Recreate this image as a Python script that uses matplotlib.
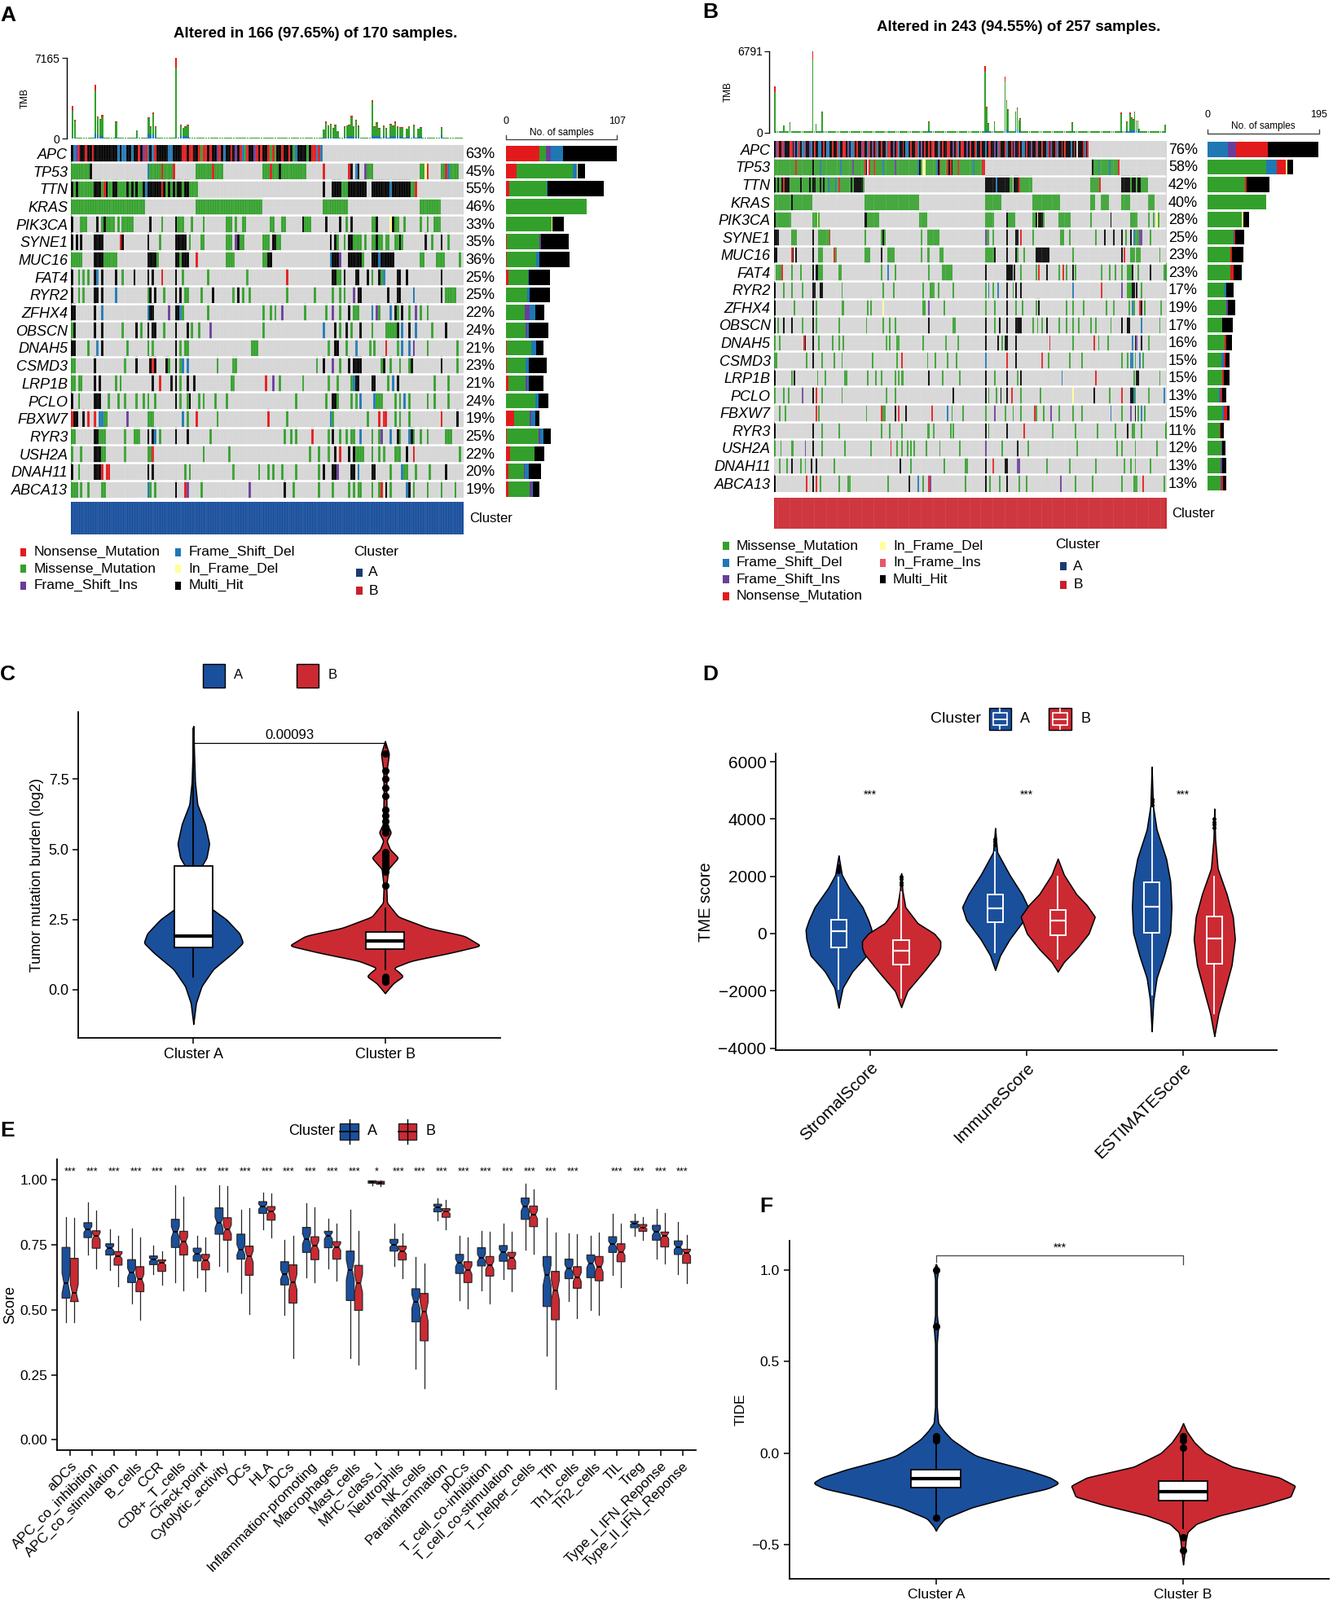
import numpy as np
import matplotlib.pyplot as plt
from matplotlib.colors import ListedColormap
from matplotlib.patches import Rectangle
from matplotlib.lines import Line2D

plt.rcParams['font.family'] = ['Liberation Sans', 'DejaVu Sans']

# layout grid: reference scaled to 1309 x 1571 units, top-left origin
W, H = 1309.0, 1571.0

BLUE = '#1A4F9C'
RED = '#CB2A33'

# ---------------- oncoplot data ----------------
MUT_CODES = '.MNDIYJX'
MUT_COLORS = ['#D5D5D5', '#33A02C', '#E31A1C', '#1F78B4', '#6A3D9A', '#FFFF99', '#E8566A', '#000000']
MUT_NAMES = {'M': 'Missense_Mutation', 'N': 'Nonsense_Mutation', 'D': 'Frame_Shift_Del',
             'I': 'Frame_Shift_Ins', 'Y': 'In_Frame_Del', 'J': 'In_Frame_Ins', 'X': 'Multi_Hit'}

genes_a = ['APC', 'TP53', 'TTN', 'KRAS', 'PIK3CA', 'SYNE1', 'MUC16', 'FAT4', 'RYR2', 'ZFHX4',
           'OBSCN', 'DNAH5', 'CSMD3', 'LRP1B', 'PCLO', 'FBXW7', 'RYR3', 'USH2A', 'DNAH11', 'ABCA13']
genes_b = ['APC', 'TP53', 'TTN', 'KRAS', 'PIK3CA', 'SYNE1', 'MUC16', 'FAT4', 'RYR2', 'ZFHX4',
           'OBSCN', 'DNAH5', 'CSMD3', 'LRP1B', 'PCLO', 'FBXW7', 'RYR3', 'USH2A', 'DNAH11', 'ABCA13']
pct_a = [63, 45, 55, 46, 33, 35, 36, 25, 25, 22, 24, 21, 23, 21, 24, 19, 25, 22, 20, 19]
pct_b = [76, 58, 42, 40, 28, 25, 23, 23, 17, 19, 17, 16, 15, 15, 13, 15, 11, 12, 13, 13]

apc_a = ("XDINXXNXXN" "XXXXXXXXXX" "DXDDXXDXXN" "XINDXDNXXX" "XXDDXXXXNN"
         "XNNXXNMNNX" "NXXINXDXXN" "XIXNDMNXXI" "NXNXXNMNMX" "XNXXNXMDXX" "XXMXNNDND")
rows_a = [
    "M0-7 X8 D33 M34-38 N39 M40-43 N44 M54-60 N61 M62-65 M83-85 N86 M87-89 X90 M91-101 N109 N120 X121 D123 X124 I127 M128-130 M151-152 Y153 N154 M160-161 N162 D163 M164-167",
    "X0 M1 X2 M3-9 X10-12 M13 N14 X15 M16-17 X18-19 M20-23 X24 M25 X26 M27 X28 M29-30 X31 D32 X33-38 N39 X40 M41 X42 M43 X44 M45 X46-47 M48 X49-50 M51-54 X109 X113-116 M117-119 X120-127 X130-137 D138 X139-146 M147-148 N149",
    "M0-31 M54-82 M109-119 M151-159",
    "X0 M4-6 X11 M13 X14 M15-18 M20 M22-26 X34 M39 X45 M46-48 M52 M57 M67-69 M71 M74-75 M86-87 M91-92 X100 M101-103 X110 X116 M119 X121 M130-131 X132 Y138 X139 M140-141 M144 M151 M154 M157-159",
    "X0 X2 X4 X10-13 N21 X22 X33 M38 X45 X46-48 X49 M51 M56-57 M67-69 I71 X72 M73-74 M83-85 X87-88 M89-90 X112 X114 M115 M118 X120-121 M122-125 M127 M130-131 X132 M133-134 M136-137 M140-141 X142 M143 X153 M156 X160 M163",
    "M0-4 X10-13 M14-19 X33-36 M37 X45-46 M47 X48-50 N54 M67-70 M83-84 X85-86 D112 X113-115 I116 X120-125 M126 X130-132 D133 X134-139 M151-152 M158-161 M168",
    "X0 M3 M5 M7 X10 D11 X13 X19 M22 X27 X33 X35 N39 X45 M48 M59 M76 N93 X113-114 M115-116 X118 X123-124 X128 M130 X133 M134 D135 X141-142 X145 X160",
    "X0 M3 M5 X10-11 X13 D19 M33 X34 X36 M40 X45 X47 M49-50 M56 X61 M70 X72 M74 M77 M93 M105 M113 M116 M118 I122 X124-125 X137 X141-142 D148 X160 M162-166",
    "X0-1 X10 D13 D33 X34-35 I42 X45-46 D47 M48 M59 M83 M86 M88 I91 M101 M110 I113 M116 X120 M122-124 D130 I132 M133 D138 X140 M141 X143 M146 I149 M151 M154",
    "M0 X1 X10 X13 M22 X28 M30 X33 X35-36 M40 X45 X50 M52 M55 I60 M83 D109 X114 M116 X119 M121 X125 M130 M136-140 X141 D143 X146 D149 M156 X162",
    "X0-1 M7 D11 X13 M24 M33 M35 X45 M47 M49-50 M78-80 M111 X114-115 M119 D123 M129 M131 N136 M141 D143 D146 I148 M154 M167",
    "M0-1 X10 M23 X28 X34 N35 X36 X41 M42 X45 M47 D48 D50 M63 M70-71 M106 X109 I113 M116 X120 X122-125 M134 X135 M138 M142 M146 X147 X160 M167",
    "M0-1 M3-4 X10 X12 M19 M21 X35 N38 X43 X45 M47 X50 X53 M69-70 N84 I87 M90 M100 M111 M115 M121 D122 X123-124 X130-131 M137 D139 X141 M157 M163",
    "X0 M3 X10-12 M16 M20 M23 M28 M31 M33 M36 X45 M47 M50 X51 M55 M57 M62 M67 M97 M110 X113-114 M115 M121 M123 D125 D131 M132-134 M140 M142 D144 M146 M154 M157 M163",
    "N0 X1-2 X5 N7 N10 D12-13 M14-15 I24 M33-35 D48 M50 N54 M63 N85 M93 D112 M113 M128 N133 N135-136 M140 M142 M146 N160 X167",
    "M0-1 X10-11 M12-14 M23 M27-29 X33 X35 D36 M38 X45 X50 M60 M92 M95 M97 N104 M111 X113 M116 M119 M121-122 D125 M130 M133 I134 D138 X141 M142 D146 X147 M148 M151 M154 M162-164",
    "M0 M4 X10-12 M13-14 M23 M33-34 N35 M57 M68 M103 M107 M111 X114 N116 X120 X122 M123-126 M130 M133 M135 M140-142 X145 N148 M168",
    "X0 M3 X10-12 N13 N15-16 X33 X35 M49 M51 M70 M81 M85 M87 M91 M97 M107 X109 X113-114 I115 X121-122 D124 X130-131 M138 D143 M144-145 M149 M155 X162",
    "M0 M1-2 M4 M7 M13-14 D33 M34 M36 X45 N49 I50 M56 I77 X92 M96 M107 M113 M120 M122 M124-125 M130 M133 N134 X136 M138 D145 X146 M148 M154 M160 M166",
]

apc_b = ("XINXXNIXXX" "NNXIXDNXDD" "NXXIDXNXXD" "DXNXDDXXNX" "XNDXXNNXIX"
         "DDNXNXXINX" "XDNXIXNDXX" "NXXDNNXXIX" "NDXXNXDDXN" "XXNNDXIXNX"
         "XNXNNXXDNX" "NXXNNXXIXN" "DXNNXXIXNX" "XNDXXNXXDX" "NNXXIXDNXX"
         "XNDXXNXIXX" "NXDDXNXXIX" "XNDXXNXXDN" "XIXXNDXXNX" "NXXXDXNX.X" "XXNDXN")
rows_b = [
    "M0-13 N14 M15-24 X25 M26-29 D30 M31-42 D43 M44-50 I51 M52-58 N59 X60 N62 M63-64 N65 M66-70 D71 M72-78 I79 M80-93 D94 X95 M96 Y97-98 M99-105 D106 X107 N108 M109-112 N113 X114 N115 X116 M117-119 N120 M121-129 D130 M131-135 N136-137 X208 M209-211 D212 M213-218 D219 M220-224 N225",
    "X0 M1 X2 M3-4 X5-9 N6 M10-16 X17 M18-22 X23 M24 X25-26 M27-29 X30 M31 X32 M33-34 D35 M36-39 D40 M41 N42 M43-49 X50 M51 X52-57 M58 X138-144 D145 X146-153 M154-155 X157-159 N160 M161-168 M207-212 N213 X227-229 X230-232 M233 X234-236 M237 X238-239 M240-244",
    "M0-10 X11 M12-24 M59-94 M138-148 M169-186 M207-209 M214-218 M227-232 M245-248",
    "X0 M1-10 M25-27 Y28 M29 X59-60 M61-68 M95-99 M138-143 X152 M153-157 M169-170 X171 Y172 X173-175 M176 M186-193 M207 X220 M233-237 M245 M248 Y250 M251",
    "X0-2 M11-14 X25 M29-35 N36 M59 M70 X71 M72 M96 M100-107 I138 M139-140 M143 X152 X158-159 N161 M169 M187-189 M193 M210 X216 X222 X227 M230 X233 D235 M236-238 I239-240 M246",
    "X0-1 N11 X12 X14 X25 M29-31 N39 M40 M59-62 X70 M74-78 M96 M100-101 M108-110 M138-143 X144 X152 X158 M159 M163 X171-179 M195 X227 N229 M233-235 M237-239 M252",
    "M1-4 N5 M11 M17 X25 X27-28 M29-31 M42-43 M70 D74 M79 M101 M110-116 X138 X152-155 X157 M161 M171 N173 X178 M186 N189 M191 X195 M197 M214 M219 M223 M227 M231-233 X234 M238 X246 M255-256",
    "X0 M6 M11 M18 X25-26 X30-31 M44 M71 M78 M97 M102-104 M107 M117 M138 D140 M143 D146 X152 M156 X158 X161 D195 N214 I227 M231-233 X234-235 X237 M240",
    "X0 M13 X25 M27 M44-45 M61 M63 Y71 M97-98 I101 M111 M138 M144 X152 M158 M162 M171 X173 M191 M195 M202 M217 M222 M232 D234 M235 N239 X240 M242 M253",
    "X0 M2 X6 X11 M18 X25 M27 M42 M60 M71 M75 M79 X101 M117-118 X138 M144 X147 X152 X158-161 M169 M172 M175 X178 M186 M191 M195 M199 M207 M210 M220 X227 X231-232 D240 M252",
    "M0 M3 N19 X20 X25 M29 M38 M42 M45 M73 M75 M80-81 M97 M112 M120 X138 X146 M149 X151-152 X158 N180 M195 N209 M212 M218 D234 X236 I237 X240 M245",
    "M0-1 M21 X25 M31 M39 M44 M64 M80 N83 M100 M105 M113 M119 D138 N152 X158 N175 M179 M193 M201 M227 M231 D233-234 M236 D239 M241",
    "X0 M11 X13 M28 M33 M46-47 M61 M66 M70 M79 M81 M83-84 X101 M110 M121 X138 M144 X152 M159 X161 D188 N210 M235 X237-238 M252",
    "M0 M6 M9 I18 X25 N27 M31 M44 M73 M79 X117 X138 M140 M145 X148 X152 N155 M161 M174 Y195 X209 M219 N227 X233-234 D235 M236 M245 D255",
    "M3 M7 N27 M29 M60 N70 M71-72 X79 N81 X86 N103 D113 M116 M123 M138 I144 M151 M156 M161 N170 M171 M176 I181 M186 M195 M201 D220 M227 I233 X236 M238 D240 M242",
    "X0 X25 M31 M42 M70 M75 M83 M100-101 M104 M115 M117 X138 M140 X152 N163 M182 M197 M211 M223 X231 M234-235 M240 M256",
    "M0 M4 M11-12 I20 X25 M31 M46 M63 N76 M80 M83 M87 M89 M91 M99 M108 M121 I138 M149 X159 M166 M198 M224 M227 M236 M250",
    "M3 M8 X11 M17 M20 X24 X27 M39 X82 M89 M111 M125-126 X138 N143 X151-152 I159-160 M178 M193 M210 M229 M233 M236 M246",
    "X0 N21 X25 N27 M30 M42 M48-49 M74 X88 D94 M97 N101 I102 M125 X138 M141 M147 X152 M160 M165 I187 M197 M208 M227 M235-237 N241 M255",
]

# side bar counts per mutation class (stacking order as drawn)
bar_a = {
    'N': [32, 10, 3, 0, 0, 1, 1, 2, 0, 0, 0, 1, 1, 2, 0, 8, 1, 4, 2, 2],
    'M': [6, 54, 36, 78, 44, 31, 28, 19, 20, 18, 19, 23, 18, 17, 28, 15, 30, 23, 15, 21],
    'I': [5, 0, 0, 0, 0, 2, 0, 0, 0, 5, 1, 0, 0, 1, 0, 1, 2, 0, 1, 2],
    'D': [12, 4, 1, 0, 0, 0, 3, 1, 3, 5, 2, 5, 3, 2, 3, 4, 3, 0, 4, 1],
    'Y': [0, 1, 0, 0, 1, 0, 0, 0, 0, 0, 0, 0, 0, 0, 0, 0, 0, 0, 0, 0],
    'X': [52, 7, 54, 0, 11, 26, 29, 20, 19, 9, 19, 7, 17, 14, 10, 4, 7, 10, 12, 6],
}
bar_b = {
    'M': [0, 103, 65, 103, 60, 45, 39, 40, 30, 33, 26, 30, 24, 26, 19, 25, 21, 24, 22, 22],
    'D': [35, 18, 0, 0, 0, 0, 0, 0, 3, 0, 0, 0, 4, 0, 3, 3, 0, 0, 0, 1],
    'I': [14, 0, 0, 0, 0, 2, 0, 0, 0, 3, 0, 0, 0, 0, 0, 0, 0, 2, 3, 1],
    'N': [56, 16, 3, 0, 0, 1, 3, 5, 0, 0, 0, 3, 3, 2, 3, 6, 1, 0, 0, 3],
    'Y': [0, 3, 0, 0, 3, 0, 0, 0, 0, 0, 0, 0, 0, 0, 0, 0, 0, 0, 0, 0],
    'J': [0] * 20,
    'X': [89, 10, 41, 0, 9, 16, 20, 15, 13, 12, 18, 9, 7, 10, 7, 4, 6, 5, 7, 5],
}

# TMB spikes: (sample, total, Frame_Shift_Del part, Nonsense part); other samples sit at baseline
tmb_a = [(0, 2911, 60, 430), (1, 1646, 40, 100), (10, 4760, 450, 500), (11, 1975, 350, 100),
         (12, 1722, 250, 80), (13, 2076, 200, 100), (19, 1519, 50, 80), (28, 760, 100, 40),
         (33, 1899, 450, 100), (34, 1089, 300, 60), (35, 2304, 450, 150), (36, 1089, 200, 60),
         (45, 7165, 50, 835), (47, 1266, 300, 80), (48, 962, 250, 50), (49, 1063, 250, 60),
         (50, 1241, 250, 80), (109, 810, 50, 40), (110, 1519, 100, 150), (111, 1165, 80, 60),
         (112, 1317, 100, 60), (113, 937, 80, 40), (114, 1241, 100, 60), (115, 684, 60, 30),
         (118, 1063, 150, 50), (119, 1190, 150, 60), (120, 1241, 200, 60), (121, 2000, 250, 100),
         (122, 1063, 150, 50), (123, 1696, 200, 80), (124, 1139, 150, 50), (130, 3443, 300, 200),
         (131, 1063, 200, 60), (132, 1443, 200, 80), (133, 937, 200, 40), (135, 1139, 250, 60),
         (136, 937, 200, 40), (138, 1317, 250, 60), (139, 1139, 200, 60), (140, 1494, 250, 80),
         (141, 1063, 200, 50), (142, 987, 200, 50), (143, 987, 150, 40), (145, 886, 150, 40),
         (146, 1063, 200, 60), (148, 1241, 200, 60), (150, 886, 150, 40), (151, 987, 200, 40),
         (160, 987, 300, 60)]
tmb_b = [(0, 3867, 50, 500), (6, 604, 20, 30), (10, 846, 60, 40), (25, 6791, 60, 700),
         (27, 725, 100, 30), (31, 1716, 100, 60), (101, 918, 150, 40), (138, 5510, 100, 450),
         (139, 2127, 200, 100), (140, 749, 100, 30), (144, 918, 150, 50), (151, 4664, 200, 400),
         (152, 2658, 250, 100), (153, 1958, 200, 80), (158, 1764, 250, 80), (159, 2054, 250, 100),
         (160, 991, 200, 50), (161, 1160, 200, 60), (195, 846, 100, 40), (227, 1643, 100, 80),
         (231, 918, 150, 40), (233, 1643, 250, 80), (234, 1281, 200, 60), (235, 1088, 200, 50),
         (236, 1764, 250, 100), (237, 991, 200, 50), (238, 991, 200, 50), (239, 300, 50, 20),
         (256, 677, 50, 40)]

# ---------------- panel C (TMB log2) ----------------
c_a_y = [-1.22, -0.47, 0.13, 0.73, 1.32, 1.67, 2.0, 2.5, 3.1, 3.7, 4.2, 4.7, 5.2, 5.9, 6.6, 7.4, 8.5, 9.39]
c_a_w = [0, 8, 25, 60, 120, 150, 140, 100, 30, 8, 15, 40, 48, 35, 12, 5, 2, 0]
c_b_y = [-0.12, 0.23, 0.48, 0.65, 0.78, 1.03, 1.32, 1.57, 1.92, 2.2, 2.6, 3.1, 3.7, 4.1, 4.3,
         4.7, 5.0, 5.3, 5.6, 5.9, 6.3, 7.0, 7.8, 8.4, 8.85]
c_b_w = [0, 25, 55, 40, 25, 80, 200, 290, 240, 130, 40, 6, 4, 8, 10, 40, 15, 5, 18, 6, 5, 4, 5, 12, 0]
c_box_a = dict(whislo=0.45, q1=1.52, med=1.92, q3=4.41, whishi=9.3, fliers=[])
c_box_b = dict(whislo=0.72, q1=1.44, med=1.74, q3=2.05, whishi=2.9,
               fliers=[0.3, 0.33, 0.38, 0.45, 3.7, 4.2, 4.3, 4.4, 4.5, 4.6, 4.7, 4.8, 4.9, 5.6,
                       5.7, 5.8, 6.0, 6.2, 6.4, 6.9, 7.2, 7.5, 7.8, 8.4])

# ---------------- panel D (TME scores) ----------------
d_cats = ['StromalScore', 'ImmuneScore', 'ESTIMATEScore']
d_profiles = {
    ('StromalScore', 'A'): ([-2592, -1893, -1330, -766, -200, 135, 473, 924, 1600, 2050, 2727],
                            [0, 10, 33, 68, 78, 80, 72, 58, 25, 8, 0]),
    ('StromalScore', 'B'): ([-2570, -2006, -1330, -700, -485, -259, 0, 360, 924, 1500, 2107],
                            [0, 15, 55, 90, 95, 95, 80, 40, 10, 3, 0]),
    ('ImmuneScore', 'A'): ([-1273, -766, -203, 473, 924, 1375, 2051, 2840, 3685],
                           [0, 12, 35, 70, 80, 65, 35, 5, 0]),
    ('ImmuneScore', 'B'): ([-1330, -992, -541, 0, 586, 1000, 1375, 2051, 2615],
                           [0, 15, 45, 75, 90, 70, 45, 15, 0]),
    ('ESTIMATEScore', 'A'): ([-3415, -2344, -1555, -766, 23, 924, 1826, 2615, 3629, 4474, 5827],
                             [0, 4, 12, 30, 45, 48, 45, 35, 12, 3, 0]),
    ('ESTIMATEScore', 'B'): ([-3584, -2795, -2006, -1104, -203, 586, 1375, 2277, 3300, 4361],
                             [0, 10, 25, 42, 50, 45, 30, 8, 2, 0]),
}
d_boxes = {
    ('StromalScore', 'A'): dict(whislo=-1950, q1=-485, med=79, q3=473, whishi=1950, fliers=[2150, 2250, 2350]),
    ('StromalScore', 'B'): dict(whislo=-2250, q1=-1082, med=-597, q3=-237, whishi=1440, fliers=[1700, 1800, 1900, 2000]),
    ('ImmuneScore', 'A'): dict(whislo=-660, q1=383, med=890, q3=1352, whishi=2850, fliers=[3100, 3200, 3300]),
    ('ImmuneScore', 'B'): dict(whislo=-870, q1=-56, med=440, q3=834, whishi=2000, fliers=[]),
    ('ESTIMATEScore', 'A'): dict(whislo=-2150, q1=23, med=947, q3=1792, whishi=4400, fliers=[4500, 4600, 4700]),
    ('ESTIMATEScore', 'B'): dict(whislo=-2800, q1=-1048, med=-180, q3=586, whishi=1980, fliers=[3700, 3800, 3900, 4000]),
}

# ---------------- panel E (immune scores) ----------------
e_cats = ['aDCs', 'APC_co_inhibition', 'APC_co_stimulation', 'B_cells', 'CCR', 'CD8+_T_cells',
          'Check-point', 'Cytolytic_activity', 'DCs', 'HLA', 'iDCs', 'Inflammation-promoting',
          'Macrophages', 'Mast_cells', 'MHC_class_I', 'Neutrophils', 'NK_cells', 'Parainflammation',
          'pDCs', 'T_cell_co-inhibition', 'T_cell_co-stimulation', 'T_helper_cells', 'Tfh',
          'Th1_cells', 'Th2_cells', 'TIL', 'Treg', 'Type_I_IFN_Reponse', 'Type_II_IFN_Reponse']
# whisker low, q1, median, q3, whisker high
e_stats_a = [
    (.451, .545, .602, .740, .856), (.711, .778, .809, .835, .913), (.654, .711, .737, .754, .809),
    (.524, .605, .643, .693, .814), (.638, .674, .693, .707, .747), (.607, .740, .799, .848, .980),
    (.626, .688, .716, .737, .785), (.669, .791, .835, .892, .980), (.565, .695, .731, .791, .885),
    (.809, .871, .897, .916, .951), (.482, .596, .636, .685, .768), (.626, .721, .773, .817, .910),
    (.659, .739, .785, .802, .851), (.316, .536, .654, .726, .885), (.978, .987, .991, .996, .999),
    (.669, .726, .750, .771, .833), (.273, .454, .532, .581, .702), (.845, .877, .894, .906, .928),
    (.536, .640, .681, .713, .783), (.576, .669, .700, .739, .804), (.617, .687, .721, .747, .830),
    (.731, .848, .897, .930, .985), (.325, .513, .633, .705, .853), (.534, .620, .659, .695, .794),
    (.501, .624, .679, .711, .783), (.633, .721, .752, .781, .869), (.785, .816, .833, .840, .868),
    (.698, .768, .799, .825, .889), (.636, .713, .742, .765, .837)]
e_stats_b = [
    (.454, .532, .565, .698, .853), (.659, .737, .783, .804, .882), (.591, .672, .707, .724, .783),
    (.462, .570, .617, .666, .778), (.596, .648, .681, .692, .726), (.576, .711, .762, .802, .934),
    (.571, .654, .692, .713, .778), (.648, .768, .809, .854, .975), (.484, .633, .705, .745, .892),
    (.778, .845, .877, .897, .946), (.316, .526, .607, .673, .783), (.607, .693, .747, .781, .894),
    (.612, .695, .742, .762, .830), (.290, .498, .602, .671, .802), (.975, .983, .989, .994, .998),
    (.622, .692, .726, .745, .794), (.200, .381, .493, .563, .677), (.809, .856, .877, .889, .921),
    (.505, .605, .654, .685, .778), (.526, .630, .671, .705, .799), (.571, .657, .700, .721, .799),
    (.716, .820, .866, .899, .962), (.197, .462, .576, .648, .796), (.467, .583, .626, .666, .790),
    (.482, .612, .664, .705, .796), (.588, .685, .723, .754, .832), (.770, .802, .817, .828, .858),
    (.679, .742, .785, .799, .873), (.602, .679, .718, .733, .788)]
e_sig = ['***'] * 14 + ['*'] + ['***'] * 9 + [''] + ['***'] * 4
e_notch_n = 60

# ---------------- panel F (TIDE) ----------------
f_a_y = [-0.422, -0.40, -0.356, -0.296, -0.237, -0.193, -0.163, -0.133, -0.089, -0.044, -0.015,
         0.015, 0.074, 0.119, 0.163, 0.25, 0.6, 0.69, 0.75, 0.95, 1.0, 1.03]
f_a_w = [0, 5, 20, 80, 170, 250, 275, 255, 200, 130, 90, 70, 35, 18, 5, 2, 2, 5, 2, 2, 5, 0]
f_b_y = [-0.607, -0.548, -0.474, -0.43, -0.385, -0.341, -0.281, -0.237, -0.178, -0.133, -0.074,
         0.0, 0.059, 0.119, 0.163]
f_b_w = [0, 3, 6, 10, 30, 80, 180, 240, 250, 215, 110, 50, 25, 8, 0]
f_box_a = dict(whislo=-0.33, q1=-0.19, med=-0.141, q3=-0.092, whishi=0.06,
               fliers=[1.0, 0.69, 0.09, 0.08, 0.07, -0.35])
f_box_b = dict(whislo=-0.41, q1=-0.261, med=-0.21, q3=-0.151, whishi=0.01,
               fliers=[0.09, 0.07, 0.03, -0.46, -0.53])

fig = plt.figure(figsize=(16.36, 19.64), dpi=100)


def box(x0, y0, x1, y1):
    return [x0 / W, 1 - y1 / H, (x1 - x0) / W, (y1 - y0) / H]


def ftext(x, y, s, **kw):
    kw.setdefault('va', 'center')
    fig.text(x / W, 1 - y / H, s, **kw)


def frect(x0, y0, x1, y1, **kw):
    fig.add_artist(Rectangle((x0 / W, 1 - y1 / H), (x1 - x0) / W, (y1 - y0) / H,
                             transform=fig.transFigure, **kw))


def fline(xs, ys, **kw):
    fig.add_artist(Line2D([x / W for x in xs], [1 - y / H for y in ys],
                          transform=fig.transFigure, **kw))


def classic(ax, fs):
    for s in ['top', 'right']:
        ax.spines[s].set_visible(False)
    for s in ['left', 'bottom']:
        ax.spines[s].set_linewidth(1.3)
    ax.tick_params(direction='out', length=5, width=1.1, labelsize=fs, colors='black')


def oncoplot(genes, apc, rows, ncol, pct, bars, order, bar_max, tmb_max, spikes, tmb_base,
             clus, clus_color, tmb_box, mat_box, side_box, clus_box, brk):
    ng = len(genes)
    mat = np.zeros((ng, ncol), dtype=int)
    for j, ch in enumerate(apc[:ncol]):
        mat[0, j] = MUT_CODES.index(ch)
    for i, spec in enumerate(rows, start=1):
        for tok in spec.split():
            a, _, b = tok[1:].partition('-')
            a = int(a)
            b = int(b) if b else a
            mat[i, a:b + 1] = MUT_CODES.index(tok[0])

    ax = fig.add_axes(box(*mat_box))
    ax.imshow(mat, cmap=ListedColormap(MUT_COLORS), vmin=-0.5, vmax=len(MUT_COLORS) - 0.5,
              aspect='auto', interpolation='nearest', extent=(0, ncol, ng, 0))
    ax.vlines(np.arange(1, ncol), 0, ng, color='white', lw=0.3, alpha=0.45)
    ax.hlines(np.arange(1, ng), 0, ncol, color='white', lw=1.8)
    ax.set_xlim(0, ncol)
    ax.set_ylim(ng, 0)
    ax.set_xticks([])
    ax.set_yticks(np.arange(ng) + 0.5)
    ax.set_yticklabels(genes, fontstyle='italic', fontsize=13)
    ax.tick_params(axis='y', length=0, pad=3)
    for s in ax.spines.values():
        s.set_visible(False)
    for i, p in enumerate(pct):
        ax.text(ncol * 1.006, i + 0.55, f'{p}%', va='center', ha='left', fontsize=13)

    tx = fig.add_axes(box(*tmb_box))
    tot = np.full(ncol, float(tmb_base))
    blu = np.zeros(ncol)
    red = np.zeros(ncol)
    for c, t, b, r in spikes:
        tot[c], blu[c], red[c] = t, b, r
    grn = tot - blu - red
    xs = np.arange(ncol) + 0.5
    tx.bar(xs, blu, width=0.85, color=MUT_COLORS[3], lw=0)
    tx.bar(xs, grn, bottom=blu, width=0.85, color=MUT_COLORS[1], lw=0)
    tx.bar(xs, red, bottom=blu + grn, width=0.85, color=MUT_COLORS[2], lw=0)
    tx.set_xlim(0, ncol)
    tx.set_ylim(0, tmb_max)
    tx.set_xticks([])
    tx.set_yticks([0, tmb_max])
    tx.set_yticklabels(['0', str(tmb_max)], fontsize=9.5)
    for s in ['top', 'right', 'bottom']:
        tx.spines[s].set_visible(False)
    tx.spines['left'].set_position(('outward', 4))
    tx.spines['left'].set_linewidth(1.0)
    tx.tick_params(axis='y', length=4, pad=2)
    tx.set_ylabel('TMB', fontsize=8.5, labelpad=4)

    sx = fig.add_axes(box(*side_box))
    left = np.zeros(ng)
    for code in order:
        vals = np.array(bars[code], dtype=float)
        sx.barh(np.arange(ng) + 0.5, vals, left=left, height=0.86,
                color=MUT_COLORS[MUT_CODES.index(code)], lw=0)
        left += vals
    sx.set_xlim(0, bar_max)
    sx.set_ylim(ng, 0)
    sx.axis('off')
    pitch = (mat_box[3] - mat_box[1]) / ng
    y_line, y_tick, y_num, y_lab = [(v - mat_box[1]) / pitch for v in brk]
    sx.plot([0, 0, bar_max, bar_max], [y_tick, y_line, y_line, y_tick], color='#444444',
            lw=1.0, clip_on=False)
    sx.text(0, y_num, '0', ha='center', va='center', fontsize=9)
    sx.text(bar_max, y_num, str(bar_max), ha='center', va='center', fontsize=9)
    sx.text(bar_max / 2, y_lab, 'No. of samples', ha='center', va='center', fontsize=8.5)

    cx = fig.add_axes(box(*clus_box))
    cx.imshow(np.array([clus]), cmap=ListedColormap([BLUE, RED]), vmin=-0.5, vmax=1.5,
              aspect='auto', interpolation='nearest', extent=(0, ncol, 1, 0))
    cx.vlines(np.arange(1, ncol), 0, 1, color='white', lw=0.3, alpha=0.3)
    cx.set_xlim(0, ncol)
    cx.axis('off')
    cx.text(ncol * 1.015, 0.5, 'Cluster', va='center', ha='left', fontsize=12)


def draw_violin(ax, pos, ys, ws, px_unit, color):
    ys = np.asarray(ys, float)
    ws = np.asarray(ws, float) / px_unit
    yy = np.linspace(ys[0], ys[-1], 600)
    ww = np.interp(yy, ys, ws)
    ker = np.hanning(13)
    ker /= ker.sum()
    ww = np.convolve(ww, ker, mode='same')
    ax.fill_betweenx(yy, pos - ww, pos + ww, facecolor=color, edgecolor='black',
                     linewidth=1.1, zorder=2)


def inner_box(ax, pos, st, width, dark=True):
    if dark:
        ax.bxp([st], positions=[pos], widths=[width], patch_artist=True, showcaps=False,
               boxprops=dict(facecolor='white', edgecolor='black', linewidth=1.3),
               medianprops=dict(color='black', linewidth=3),
               whiskerprops=dict(color='black', linewidth=1.3),
               flierprops=dict(marker='o', markerfacecolor='black', markeredgecolor='black',
                               markersize=5.5),
               manage_ticks=False, zorder=3)
    else:
        ax.bxp([st], positions=[pos], widths=[width], patch_artist=True, showcaps=False,
               boxprops=dict(facecolor='none', edgecolor='white', linewidth=1.4),
               medianprops=dict(color='white', linewidth=1.6),
               whiskerprops=dict(color='white', linewidth=1.3),
               flierprops=dict(marker='o', markerfacecolor='black', markeredgecolor='black',
                               markersize=2.5),
               manage_ticks=False, zorder=3)


# ---------------- A ----------------
oncoplot(genes_a, apc_a, rows_a, 170, pct_a, bar_a, 'NMIDYX', 107, 7165, tmb_a, 100,
         [0] * 170, BLUE,
         (70, 57, 455, 136), (70, 142, 455, 489), (497, 142, 606, 489), (70, 493, 455, 525),
         (137, 133, 119, 130))
ftext(0, 15, 'A', fontsize=19, fontweight='bold')
ftext(310, 33, 'Altered in 166 (97.65%) of 170 samples.', ha='center', fontsize=13.5,
      fontweight='bold')
for x_sq, codes in [(20, 'NMI'), (172, 'DYX')]:
    for k, code in enumerate(codes):
        y = 542 + 16.5 * k
        frect(x_sq, y - 4, x_sq + 6, y + 4, facecolor=MUT_COLORS[MUT_CODES.index(code)], lw=0)
        ftext(x_sq + 13, y, MUT_NAMES[code], fontsize=12.5)
ftext(347, 542, 'Cluster', fontsize=12.5)
frect(350, 558, 356, 566, facecolor='#1B3A70', lw=0)
ftext(362, 562, 'A', fontsize=12.5)
frect(350, 576, 356, 584, facecolor='#C8202C', lw=0)
ftext(362, 580, 'B', fontsize=12.5)

# ---------------- B ----------------
oncoplot(genes_b, apc_b, rows_b, 257, pct_b, bar_b, 'MDINYJX', 195, 6791, tmb_b, 80,
         [1] * 257, RED,
         (760, 50, 1145, 130), (760, 138, 1145, 483), (1186, 138, 1295, 483), (760, 489, 1145, 519),
         (131, 127, 113, 124))
ftext(690, 12, 'B', fontsize=19, fontweight='bold')
ftext(1000, 27, 'Altered in 243 (94.55%) of 257 samples.', ha='center', fontsize=13.5,
      fontweight='bold')
for x_sq, codes in [(710, 'MDIN'), (864, 'YJX')]:
    for k, code in enumerate(codes):
        y = 536 + 16.4 * k
        frect(x_sq, y - 4, x_sq + 6, y + 4, facecolor=MUT_COLORS[MUT_CODES.index(code)], lw=0)
        ftext(x_sq + 13, y, MUT_NAMES[code], fontsize=12.5)
ftext(1036, 535, 'Cluster', fontsize=12.5)
frect(1041, 552, 1047, 560, facecolor='#1B3A70', lw=0)
ftext(1054, 556, 'A', fontsize=12.5)
frect(1041, 570, 1047, 578, facecolor='#C8202C', lw=0)
ftext(1054, 574, 'B', fontsize=12.5)

# ---------------- C ----------------
ftext(0, 662, 'C', fontsize=19, fontweight='bold')
frect(199, 652, 221, 675, facecolor=BLUE, edgecolor='black', lw=1.0)
ftext(230, 663, 'A', fontsize=12)
frect(291, 652, 313, 675, facecolor=RED, edgecolor='black', lw=1.0)
ftext(322, 663, 'B', fontsize=12)
ax = fig.add_axes(box(77, 699, 491, 1019))
draw_violin(ax, 1, c_a_y, c_a_w, 580, BLUE)
draw_violin(ax, 2, c_b_y, c_b_w, 580, RED)
inner_box(ax, 1, c_box_a, 0.2)
inner_box(ax, 2, c_box_b, 0.2)
ax.plot([1, 1, 2, 2], [8.72, 8.79, 8.79, 8.6], color='black', lw=0.9, zorder=4)
ax.text(1.5, 8.84, '0.00093', ha='center', va='bottom', fontsize=12)
ax.set_xlim(0.4, 2.6)
ax.set_ylim(-1.71, 9.89)
ax.set_xticks([1, 2])
ax.set_xticklabels(['Cluster A', 'Cluster B'])
ax.set_yticks([0, 2.5, 5.0, 7.5])
ax.set_yticklabels(['0.0', '2.5', '5.0', '7.5'])
ax.set_ylabel('Tumor mutation burden (log2)', fontsize=13)
classic(ax, 13)

# ---------------- D ----------------
ftext(690, 662, 'D', fontsize=19, fontweight='bold')
ftext(963, 706, 'Cluster', ha='right', fontsize=14)
for x0, col, lab in [(971, BLUE, 'A'), (1030, RED, 'B')]:
    frect(x0, 695, x0 + 22, 717, facecolor=col, edgecolor='black', lw=1.0)
    frect(x0 + 4, 700, x0 + 18, 712, facecolor='none', edgecolor='white', lw=1.2)
    fline([x0 + 4, x0 + 18], [706, 706], color='white', lw=1.2)
    fline([x0 + 11, x0 + 11], [696, 700], color='white', lw=1.2)
    fline([x0 + 11, x0 + 11], [712, 716], color='white', lw=1.2)
    ftext(x0 + 31, 706, lab, fontsize=13)
ax = fig.add_axes(box(762, 740, 1254, 1031))
for k, cat in enumerate(d_cats):
    for off, cl, col in [(-0.2, 'A', BLUE), (0.2, 'B', RED)]:
        ys, ws = d_profiles[(cat, cl)]
        draw_violin(ax, k + 1 + off, ys, ws, 380, col)
        inner_box(ax, k + 1 + off, d_boxes[(cat, cl)], 0.1, dark=False)
    ax.text(k + 1, 4846, '***', ha='center', va='center', fontsize=10)
ax.set_xlim(0.4, 3.6)
ax.set_ylim(-4068, 6282)
ax.set_xticks([1, 2, 3])
ax.set_xticklabels(d_cats, rotation=45, ha='right', va='top', rotation_mode='anchor')
ax.set_yticks([-4000, -2000, 0, 2000, 4000, 6000])
ax.set_ylabel('TME score', fontsize=14.5)
classic(ax, 15)

# ---------------- E ----------------
ftext(0, 1110, 'E', fontsize=19, fontweight='bold')
ftext(329, 1111, 'Cluster', ha='right', fontsize=13)
for x0, col, lab in [(334, BLUE, 'A'), (391, RED, 'B')]:
    fline([x0 + 9, x0 + 9], [1099, 1123], color='black', lw=1.0)
    frect(x0, 1103, x0 + 18, 1119, facecolor=col, edgecolor='#222222', lw=1.0)
    fline([x0, x0 + 18], [1111, 1111], color='black', lw=1.2)
    ftext(x0 + 27, 1111, lab, fontsize=13)
ax = fig.add_axes(box(56, 1138, 683, 1424))
for off, stats, col in [(-0.19, e_stats_a, BLUE), (0.19, e_stats_b, RED)]:
    bst = []
    for lo, q1, med, q3, hi in stats:
        half = 1.58 * (q3 - q1) / np.sqrt(e_notch_n)
        bst.append(dict(whislo=lo, q1=q1, med=med, q3=q3, whishi=hi, fliers=[],
                        cilo=med - half, cihi=med + half))
    ax.bxp(bst, positions=np.arange(len(e_cats)) + off, widths=0.36, patch_artist=True,
           shownotches=True, showcaps=False, showfliers=False,
           boxprops=dict(facecolor=col, edgecolor='#2A2A2A', linewidth=0.9),
           medianprops=dict(color='black', linewidth=1.3),
           whiskerprops=dict(color='#222222', linewidth=0.9),
           manage_ticks=False)
for k, s in enumerate(e_sig):
    ax.text(k, 1.03, s, ha='center', va='center', fontsize=9)
ax.set_xlim(-0.6, len(e_cats) - 0.4)
ax.set_ylim(-0.04, 1.08)
ax.set_xticks(np.arange(len(e_cats)))
ax.set_xticklabels(e_cats, rotation=45, ha='right', va='top', rotation_mode='anchor')
ax.set_yticks([0, 0.25, 0.5, 0.75, 1.0])
ax.set_yticklabels(['0.00', '0.25', '0.50', '0.75', '1.00'])
ax.set_ylabel('Score', fontsize=13, labelpad=2)
classic(ax, 12.5)

# ---------------- F ----------------
ftext(746, 1185, 'F', fontsize=19, fontweight='bold')
ax = fig.add_axes(box(775, 1218, 1305, 1550))
draw_violin(ax, 1, f_a_y, f_a_w, 552, BLUE)
draw_violin(ax, 2, f_b_y, f_b_w, 552, RED)
inner_box(ax, 1, f_box_a, 0.2)
inner_box(ax, 2, f_box_b, 0.2)
ax.plot([1, 1, 2, 2], [1.04, 1.077, 1.077, 1.03], color='#444444', lw=0.9, zorder=4)
ax.text(1.5, 1.12, '***', ha='center', va='center', fontsize=10)
ax.set_xlim(0.406, 2.59)
ax.set_ylim(-0.684, 1.159)
ax.set_xticks([1, 2])
ax.set_xticklabels(['Cluster A', 'Cluster B'])
ax.set_yticks([-0.5, 0.0, 0.5, 1.0])
ax.set_yticklabels(['\u22120.5', '0.0', '0.5', '1.0'])
ax.set_ylabel('TIDE', fontsize=12.5)
classic(ax, 12.5)

fig.savefig('out.png', dpi=100)
